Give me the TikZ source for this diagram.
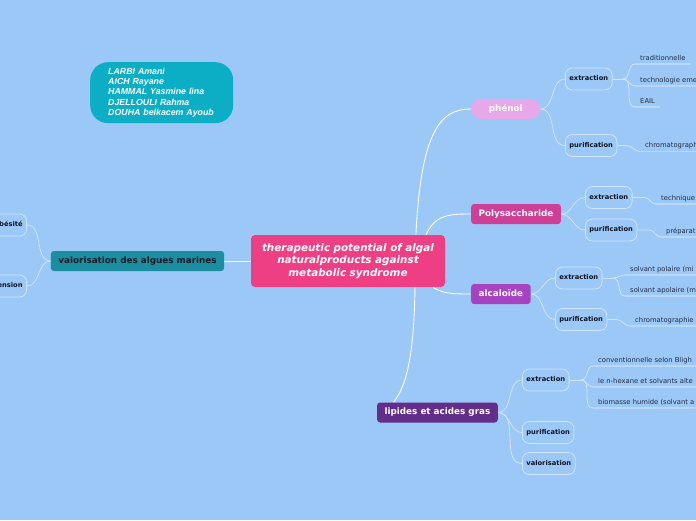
\documentclass[tikz,border=0pt]{standalone}
\usepackage{fontspec}
\setmainfont{DejaVu Sans}
\newfontfamily\namesfont{Liberation Sans}
\usetikzlibrary{positioning}

\definecolor{bgblue}{RGB}{155,200,246}
\definecolor{authorteal}{RGB}{12,174,198}
\definecolor{rootpink}{RGB}{238,63,132}
\definecolor{valteal}{RGB}{27,143,161}
\definecolor{phenolpink}{RGB}{231,167,232}
\definecolor{polymag}{RGB}{206,63,150}
\definecolor{alcpurple}{RGB}{167,67,194}
\definecolor{lipviolet}{RGB}{99,46,138}
\definecolor{darktext}{RGB}{20,28,40}
\definecolor{subtext}{RGB}{15,20,35}
\definecolor{leaftext}{RGB}{35,45,65}
\definecolor{subline}{RGB}{208,230,251}
\definecolor{underline}{RGB}{185,216,248}

\pgfdeclarelayer{bg}
\pgfdeclarelayer{edges}
\pgfsetlayers{bg,edges,main}

\begin{document}
\begin{tikzpicture}[x=1pt,y=-1pt,
  branch/.style={rounded corners=3pt,minimum height=20pt,inner xsep=7.5pt,inner ysep=0pt,
    text height=6.5pt,text depth=1.8pt,font=\fontsize{8.8}{10}\selectfont\bfseries,text=white},
  subnode/.style={draw=subline,line width=0.8pt,rounded corners=7pt,minimum height=22pt,
    inner xsep=4pt,inner ysep=0pt,text height=5pt,text depth=1.4pt,
    font=\fontsize{6.7}{8}\selectfont\bfseries,text=subtext},
  leaf/.style={anchor=south west,inner xsep=5pt,inner ysep=2pt,text height=5.2pt,text depth=1.6pt,
    font=\fontsize{6.8}{8}\selectfont,text=leaftext},
  leafline/.style={draw=underline,line width=1.2pt},
  link/.style={draw=white,line width=0.9pt},
  sublink/.style={draw=subline,line width=0.8pt}]
  \useasboundingbox (0,0) rectangle (696,520);
  \begin{pgfonlayer}{bg}
    \fill[bgblue] (0,0) rectangle (696,520);
  \end{pgfonlayer}
  \clip (0,0) rectangle (696,520);

  % authors
  \node[fill=authorteal,rounded corners=18pt,anchor=north west,minimum height=61pt,text width=107pt,
    inner xsep=18pt,inner ysep=0pt,align=left,text=white,
    font=\namesfont\fontsize{8.8}{10.3}\selectfont\bfseries\itshape] (authors) at (90,62)
    {LARBI Amani\\AICH Rayane\\HAMMAL Yasmine lina\\DJELLOULI Rahma\\DOUHA belkacem Ayoub};

  % central topic
  \node[fill=rootpink,rounded corners=4pt,minimum width=194pt,minimum height=52pt,text width=186pt,
    align=center,inner sep=0pt,text=white,font=\fontsize{10.4}{12.5}\selectfont\bfseries\itshape]
    (root) at (348,261) {therapeutic potential of algal\\naturalproducts against\\metabolic syndrome};

  % main branches
  \node[branch,fill=valteal,text=darktext] (valor) at (137.5,261) {valorisation des algues marines};
  \node[branch,fill=phenolpink,rounded corners=10pt,minimum width=69pt,anchor=west] (phen) at (471,109) {phénol};
  \node[branch,fill=polymag,anchor=west] (poly) at (471,214) {Polysaccharide};
  \node[branch,fill=alcpurple,anchor=west] (alca) at (471,294) {alcaloïde};
  \node[branch,fill=lipviolet,anchor=east] (lip) at (498,412.5) {lipides et acides gras};

  % second level
  \node[subnode,anchor=east] (obes) at (27,225) {obésité};
  \node[subnode,anchor=east] (hyper) at (27,286) {hypertension};
  \node[subnode,anchor=west] (pext) at (565,79) {extraction};
  \node[subnode,anchor=west] (ppur) at (565,145.5) {purification};
  \node[subnode,anchor=west] (sext) at (585,197.5) {extraction};
  \node[subnode,anchor=west] (spur) at (585,230) {purification};
  \node[subnode,anchor=west] (aext) at (555,278) {extraction};
  \node[subnode,anchor=west] (apur) at (555,319.5) {purification};
  \node[subnode,anchor=west] (lext) at (522,380) {extraction};
  \node[subnode,anchor=west] (lpur) at (522,432.5) {purification};
  \node[subnode,anchor=west] (lval) at (522,463.5) {valorisation};

  % leaves
  \node[leaf] (p1) at (635,64) {traditionnelle};
  \node[leaf] (p2) at (635,86) {technologie eme};
  \node[leaf] (p3) at (635,107) {EAIL};
  \node[leaf] (p4) at (640,151.5) {chromatograph};
  \node[leaf] (s1) at (656,204) {technique};
  \node[leaf] (s2) at (661,237) {préparat};
  \node[leaf] (a1) at (625,275) {solvant polaire (mi};
  \node[leaf] (a2) at (625,296) {solvant apolaire (m};
  \node[leaf] (a3) at (630,326) {chromatographie};
  \node[leaf] (l1) at (593,366) {conventionnelle selon Bligh};
  \node[leaf] (l2) at (593,387) {le n-hexane et solvants alte};
  \node[leaf] (l3) at (593,408) {biomasse humide (solvant a};

  \coordinate (pb) at (623,79);
  \coordinate (ab) at (613,278);
  \coordinate (lb) at (581,380);

  \begin{pgfonlayer}{edges}
    \draw[link] ([xshift=67pt]root.center) .. controls (418,130) and (440,109) .. (phen.west);
    \draw[link] ([xshift=72pt]root.center) .. controls (425,214) and (445,214) .. (poly.west);
    \draw[link] ([xshift=72pt]root.center) .. controls (425,294) and (445,294) .. (alca.west);
    \draw[link] ([xshift=67pt]root.center) .. controls (416,360) and (405,388) .. ([xshift=-44pt]lip.north);
    \draw[link] (root.west) -- (valor.east);

    \draw[sublink] (valor.west) to[out=180,in=0] (obes.east);
    \draw[sublink] (valor.west) to[out=180,in=0] (hyper.east);
    \draw[sublink] (phen.east) to[out=0,in=180] (pext.west);
    \draw[sublink] (phen.east) to[out=0,in=180] (ppur.west);
    \draw[sublink] (poly.east) to[out=0,in=180] (sext.west);
    \draw[sublink] (poly.east) to[out=0,in=180] (spur.west);
    \draw[sublink] (alca.east) to[out=0,in=180] (aext.west);
    \draw[sublink] (alca.east) to[out=0,in=180] (apur.west);
    \draw[sublink] (lip.east) to[out=0,in=180] (lext.west);
    \draw[sublink] (lip.east) to[out=0,in=180] (lpur.west);
    \draw[sublink] (lip.east) to[out=0,in=180] (lval.west);

    \draw[sublink] (pext.east) -- (pb);
    \foreach \l in {p1,p2,p3}
      \draw[sublink] (pb) to[out=0,in=180] (\l.south west);
    \draw[sublink] (ppur.east) -- ++(9,0) to[out=0,in=180] (p4.south west);
    \draw[sublink] (sext.east) -- ++(12,0) to[out=0,in=180] (s1.south west);
    \draw[sublink] (spur.east) -- ++(12,0) to[out=0,in=180] (s2.south west);
    \draw[sublink] (aext.east) -- (ab);
    \foreach \l in {a1,a2}
      \draw[sublink] (ab) to[out=0,in=180] (\l.south west);
    \draw[sublink] (apur.east) -- ++(9,0) to[out=0,in=180] (a3.south west);
    \draw[sublink] (lext.east) -- (lb);
    \foreach \l in {l1,l2,l3}
      \draw[sublink] (lb) to[out=0,in=180] (\l.south west);

    \foreach \l in {p1,p2,p3,p4,s1,s2,a1,a2,a3,l1,l2,l3}
      \draw[leafline] (\l.south west) -- (\l.south east);
  \end{pgfonlayer}
\end{tikzpicture}
\end{document}
